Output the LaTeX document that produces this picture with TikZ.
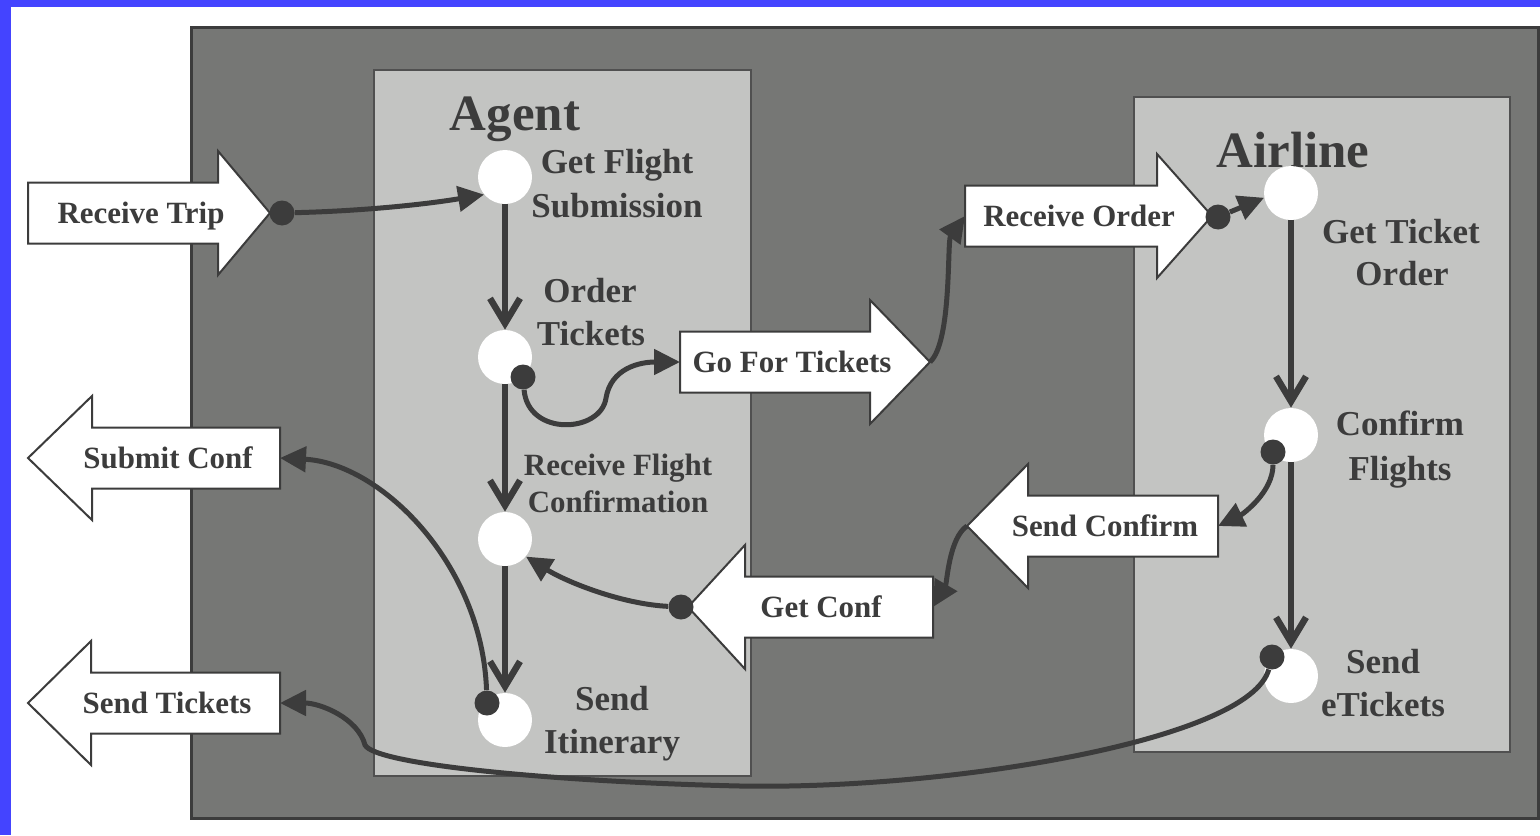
\documentclass[tikz,border=0pt]{standalone}
\usepackage{fontspec}
\setmainfont{Liberation Serif}
\usetikzlibrary{arrows.meta}
\definecolor{frameblue}{RGB}{68,68,255}
\definecolor{slate}{RGB}{118,119,117}
\definecolor{lane}{RGB}{195,196,194}
\definecolor{ink}{RGB}{60,60,60}

\begin{document}
\begin{tikzpicture}[x=0.02cm,y=-0.02cm,
    flow/.style={draw=ink,line width=0.13cm,-{Straight Barb[length=0.5cm,width=0.6cm]}},
    link/.style={draw=ink,line width=0.1cm,-{Triangle[length=0.52cm,width=0.5cm]}},
    act/.style={circle,fill=white,minimum size=1.08cm,inner sep=0},
    joint/.style={circle,fill=ink,minimum size=0.5cm,inner sep=0},
    blk/.style={fill=white,draw=ink,line width=0.04cm},
    blklab/.style={font=\fontsize{17.6}{20}\selectfont\bfseries,text=ink,anchor=base,inner sep=0},
    actlab/.style={font=\fontsize{19.9}{24}\selectfont\bfseries,text=ink,anchor=base,inner sep=0},
    lanetitle/.style={font=\fontsize{29}{34}\selectfont\bfseries,text=ink,anchor=base,inner sep=0}]
  \useasboundingbox (0,0) rectangle (1540,835);
  \fill[frameblue] (0,0) rectangle (1540,835);
  \fill[white] (11,7) rectangle (1540,835);
  \draw[fill=slate,draw=ink,line width=0.06cm] (191,27) rectangle (1538,818);
  % lanes
  \draw[fill=lane,draw=ink!90,line width=0.04cm] (374,70) rectangle (751,776);
  \draw[fill=lane,draw=ink!90,line width=0.04cm] (1134,97) rectangle (1510,752);
  \node[lanetitle] (agent) at (515,130) {Agent};
  \node[lanetitle] (airline) at (1293,167) {Airline};
  % block arrows: name/body end/head base/tip/y/text x/text
  \foreach \n/\l/\h/\t/\y/\tx/\lab in {rtrip/28/218/270/213/141/Receive Trip,
      gotix/680/870/930/362/792/Go For Tickets, rorder/965/1157/1212/216/1079/Receive Order,
      sconf/1218/1028/967/526/1105/Send Confirm, getconf/933/745/688/607/821/Get Conf,
      subconf/280/92/28/458/168/Submit Conf, stix/280/91/28/703/167/Send Tickets}
  {
    \draw[blk] (\l,{\y-30.5}) -- (\h,{\y-30.5}) -- (\h,{\y-62}) -- (\t,\y)
      -- (\h,{\y+62}) -- (\h,{\y+30.5}) -- (\l,{\y+30.5}) -- cycle;
    \coordinate (\n-in) at (\l,\y);
    \coordinate (\n-tip) at (\t,\y);
    \node[blklab] (\n) at (\tx,{\y+10.5}) {\lab};
  }
  % activities
  \foreach \n/\x/\y in {gfs/505/177,ot/505/357,rfc/505/539,si/505/720,
      gto/1291/193,cf/1291/435,se/1291/676}
    \node[act] (\n) at (\x,\y) {};
  \foreach \n/\x/\y/\lab in {gfs-a/617/173/Get Flight, gfs-b/617/217/Submission,
      ot-a/590/302/Order, ot-b/591/345/Tickets, si-a/612/710/Send, si-b/612/753/Itinerary,
      gto-a/1401/243/Get Ticket, gto-b/1402/285/Order, cf-a/1400/435/Confirm,
      cf-b/1400/480/Flights, se-a/1383/673/Send, se-b/1383/716/eTickets}
    \node[actlab] (\n) at (\x,\y) {\lab};
  \node[blklab] (rfc-a) at (618,475) {Receive Flight};
  \node[blklab] (rfc-b) at (618,512) {Confirmation};
  % control flow
  \foreach \a/\b in {gfs/ot,ot/rfc,rfc/si,gto/cf,cf/se}
    \draw[flow] (\a) -- (\b);
  % messages
  \foreach \n/\x/\y in {rtrip-dot/282/213, ot-dot/523/377, rorder-dot/1218/217,
      cf-dot/1273/452, getconf-dot/681/607, si-dot/487/703, se-dot/1272/657}
    \node[joint] (\n) at (\x,\y) {};
  \draw[link] (rtrip-dot) .. controls +(80,-2) and +(-60,10) .. (gfs.220);
  \draw[link] (ot-dot) .. controls +(5,60) and +(-5,35) .. (606,398)
    .. controls +(5,-30) and +(-40,0) .. (gotix-in);
  \draw[link] (gotix-tip) .. controls +(22,-20) and +(-18,25) .. (rorder-in);
  \draw[link] (rorder-dot) -- (gto.190);
  \draw[link] (cf-dot) .. controls +(0,40) and +(25,-12) .. (sconf-in);
  \draw[link] (sconf-tip) .. controls +(-18,12) and +(14,-24) .. (getconf-in);
  \draw[link] (getconf-dot) .. controls +(-60,-3) and +(40,25) .. (rfc.-40);
  \draw[link] (si-dot) .. controls +(-5,-140) and +(100,5) .. (subconf-in);
  \draw[link] (se-dot) .. controls +(-22,83) and +(210,4) .. (740,786)
    .. controls +(-180,-4) and +(10,20) .. (365,745)
    .. controls +(-7,-27) and +(40,0) .. (stix-in);
\end{tikzpicture}
\end{document}
